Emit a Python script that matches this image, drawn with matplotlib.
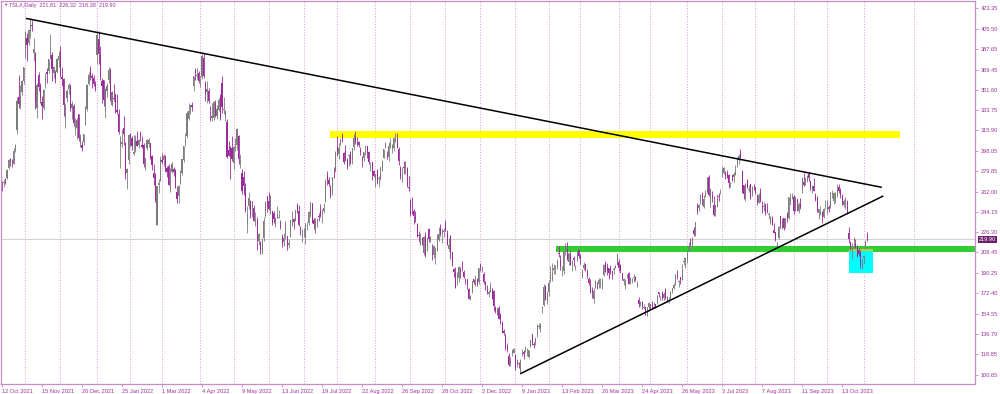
import numpy as np
import pandas as pd
import matplotlib
matplotlib.use("Agg")
import matplotlib.pyplot as plt
from matplotlib.patches import Rectangle

# TSLA daily candles, (open, high, low, close)
q4_2021 = [
    (269, 271, 263, 268.6), (270, 273, 266, 270.4), (273, 274, 269, 272.8), (274, 282, 273, 281.0),
    (283, 291, 282, 290.0), (291, 292, 285, 288.1), (289, 291, 284, 288.6), (286, 300, 286, 298.0),
    (299, 304, 297, 303.2), (316, 345, 313, 341.6), (345, 365, 336, 339.5), (337, 356, 335, 346.0),
    (350, 360, 347, 359.0), (359, 372, 357, 371.3), (382, 403, 380, 402.9), (397, 402, 377, 390.7),
    (393, 405, 391, 404.6), (403, 414.5, 397, 410.0), (409, 413, 403, 407.4), (384, 397, 377, 387.6),
    (384, 385, 335, 341.2), (336, 358, 327, 356.0), (365, 367, 351, 354.5), (355, 358, 340, 344.5),
    (341, 346, 326, 337.8), (336, 352, 334, 351.6), (357, 366, 353, 363.0), (367, 371, 358, 365.5),
    (368, 379, 366, 379.0), (380, 401, 379, 385.6), (382, 385, 359, 369.7), (366, 373, 362, 372.0),
    (367, 369, 358, 360.6), (367, 380, 366, 379.0), (378, 386, 372, 381.6), (387, 390, 363, 365.0),
    (363, 372, 355, 361.5), (361, 362, 329, 338.3), (326, 340, 318, 336.3), (344, 352, 341, 350.6),
    (352, 358, 348, 356.3), (355, 357, 333, 334.6), (336, 342, 326, 339.0), (337, 339, 320, 322.1),
    (316, 327, 312, 319.5), (318, 327, 308, 325.3), (330, 330, 307, 309.0), (304, 313, 301, 310.9),
    (303, 307, 298, 300.0), (306, 313, 303, 312.8), (321, 337, 321, 336.3), (335, 357, 333, 355.7),
    (357, 367, 356, 364.6), (370, 373, 360, 362.8), (364, 366, 353, 362.1), (362, 365, 355, 356.8),
    (357, 359, 351, 352.3),
]
q1_2022 = [
    (382, 403, 374, 399.9), (396, 403, 374, 383.2), (382, 390, 360, 362.7), (359, 362, 340, 354.9),
    (360, 360, 337, 342.3), (333, 353, 327, 352.7), (351, 358, 345, 354.8), (360, 372, 358, 368.7),
    (369, 371, 342, 343.9), (338, 351, 337, 349.9), (344, 357, 342, 343.5), (347, 349, 331, 331.9),
    (334, 348, 330, 332.1), (330, 335, 313, 314.6), (301, 311, 283, 310.0), (304, 317, 301, 306.1),
    (318, 329, 303, 312.5), (305, 306, 273, 276.4), (278, 283, 264, 282.1), (290, 313, 286, 312.2),
    (313, 314, 302, 310.4), (309, 311, 299, 301.9), (295, 312, 294, 297.0), (299, 312, 297, 307.8),
    (307, 315, 302, 302.4), (303, 308, 300, 307.3), (314, 315, 307, 310.7), (303, 311, 300, 301.5),
    (303, 305, 284, 286.7), (287, 292, 281, 291.9), (300, 308, 299, 307.5), (304, 309, 301, 307.8),
    (305, 305, 291, 292.1), (293, 294, 281, 285.7), (278, 286, 268, 273.8), (277, 278, 253, 254.7),
    (233, 267, 233, 266.9), (268, 273, 261, 270.0), (271, 293, 271, 290.1), (290, 296, 286, 288.1),
    (290, 295, 285, 293.3), (293, 294, 279, 279.8), (283, 285, 275, 279.4), (285, 286, 268, 268.2),
    (264, 283, 262, 274.8), (279, 288, 278, 286.3), (282, 284, 276, 279.4), (281, 282, 265, 265.1),
    (262, 267, 252, 255.5), (258, 268, 252, 267.3), (270, 281, 269, 280.1), (278, 291, 277, 290.5),
    (290, 302, 288, 301.8), (305, 314, 302, 307.1), (311, 333, 309, 331.3), (326, 340, 325, 333.0),
    (336, 338, 330, 338.0), (338, 341, 333, 336.9), (355, 364, 351, 363.9), (369, 371, 360, 366.5),
    (364, 371, 361, 364.7), (366, 368, 358, 359.2),
]
q2_2022 = [
    (361, 364, 354, 361.5), (363, 383, 361, 381.8), (380, 384, 362, 363.8), (357, 359, 342, 348.6),
    (350, 359, 340, 352.4), (351, 353, 340, 341.8), (327, 337, 324, 325.3), (327, 340, 324, 329.0),
    (327, 342, 325, 340.8), (340, 343, 328, 328.3), (329, 338, 326, 334.8), (334, 344, 333, 342.7),
    (346, 348, 325, 325.7), (358, 364, 331, 336.3), (334, 345, 330, 335.0), (327, 334, 324, 332.7),
    (323, 326, 292, 292.1), (299, 307, 293, 293.8), (301, 302, 273, 292.5), (300, 311, 289, 290.3),
    (287, 302, 282, 301.0), (300, 309, 298, 303.1), (303, 318, 299, 317.5), (311, 312, 286, 291.1),
    (287, 295, 283, 288.6), (278, 282, 260, 262.4), (275, 280, 259, 266.7), (265, 270, 244, 244.7),
    (234, 249, 226, 242.7), (249, 262, 247, 256.5), (254, 255, 239, 241.5), (248, 254, 240, 253.9),
    (248, 250, 236, 236.6), (235, 244, 232, 236.5), (237, 240, 211, 221.3), (219, 226, 215, 225.0),
    (218, 219, 207, 209.4), (208, 221, 207, 219.6), (221, 240, 219, 235.9), (241, 254, 240, 253.2),
    (258, 258, 244, 252.8),
    (254, 262, 246, 246.8), (244, 259, 242, 258.3), (245, 245, 233, 234.5), (243, 245, 234, 238.3),
    (233, 240, 231, 238.9), (240, 249, 239, 241.9), (239, 246, 239, 239.7), (233, 237, 229, 232.2),
    (222, 225, 213, 215.7), (218, 226, 214, 220.9), (226, 236, 220, 233.0), (223, 223, 211, 213.1),
    (215, 220, 212, 216.8), (222, 237, 222, 237.0), (233, 245, 232, 236.1), (238, 239, 229, 235.1),
    (237, 246, 236, 245.7), (250, 252, 243, 244.9), (245, 250, 232, 232.7), (230, 232, 224, 228.5),
    (223, 229, 218, 224.5),
]
q3_2022 = [
    (227, 230, 222, 227.3), (222, 234, 216, 233.1), (231, 235, 228, 231.7), (234, 245, 233, 244.5),
    (241, 254, 240, 250.8), (252, 252, 234, 234.3), (237, 239, 229, 233.1), (226, 239, 226, 237.0),
    (235, 239, 231, 238.3), (241, 243, 236, 240.1), (246, 251, 240, 240.5), (245, 247, 234, 245.5),
    (245, 252, 243, 247.5), (255, 273, 253, 271.7), (276, 280, 268, 272.2), (272, 275, 267, 268.4),
    (266, 268, 256, 258.9), (262, 275, 259, 274.8), (281, 284, 274, 280.9), (280, 298, 279, 297.1),
    (301, 311, 293, 297.3), (295, 305, 291, 300.6), (304, 309, 303, 307.4), (312, 314, 306, 308.6),
    (296, 297, 286, 288.2), (298, 303, 289, 290.4), (291, 292, 282, 283.3), (293, 295, 285, 294.4),
    (297, 298, 286, 286.6), (290, 300, 286, 300.0), (301, 313, 299, 309.3), (310, 315, 304, 306.6),
    (305, 310, 302, 304.0), (306, 307, 301, 302.9), (299, 301, 294, 296.7), (291, 293, 284, 289.9),
    (292, 297, 289, 296.5), (297, 303, 294, 297.1), (302, 302, 291.6, 296.07), (297, 298, 286, 288.09),
    (282, 288, 280, 284.82), (288, 288.5, 272.6, 277.70), (280, 281, 275, 275.61),
    (272.6, 277.6, 266, 277.16), (281, 282.3, 269, 270.21), (272.7, 276, 265.7, 274.42),
    (273, 283.8, 272, 283.70), (281.3, 289.5, 279.8, 289.26), (291.7, 299.85, 291.25, 299.68),
    (300.7, 305.5, 300.4, 304.42), (292.9, 297.4, 290.4, 292.13), (292.2, 306, 289.3, 302.61),
    (301.8, 309.1, 300.7, 303.75), (299.6, 303.7, 295.6, 303.35), (300.1, 309.8, 297.8, 309.07),
    (306.9, 313.8, 305.6, 308.73), (308.3, 313.8, 300.6, 300.80), (299.9, 301.3, 285.8, 288.59),
    (283.1, 284.5, 272.8, 275.33), (271.8, 284.1, 270.3, 276.01), (283.8, 288.7, 277.5, 282.94),
    (283.1, 289, 277.6, 287.81), (282.8, 283.7, 265.8, 268.21), (266.2, 275.6, 262.5, 265.25),
]
q4_2022 = [
    (254.5, 255.2, 241.0, 242.40), (250.5, 257.5, 242.0, 249.44), (245, 246.7, 233.3, 240.81),
    (239.4, 244.6, 235.4, 238.13), (233.9, 234.6, 222.0, 223.07), (223.9, 227.0, 218.0, 222.96),
    (215.3, 225.8, 215.0, 216.50), (220.95, 221.86, 215.0, 217.24), (208.3, 223.0, 206.2, 221.72),
    (224.0, 226.3, 204.2, 204.99), (210, 221.9, 209.5, 219.35), (229.5, 229.8, 217.3, 220.19),
    (219.8, 222.9, 217.8, 222.04), (208.3, 215.6, 202.0, 207.28), (206.4, 214.7, 203.8, 214.44),
    (205.8, 213.5, 198.6, 211.25), (210.1, 224.4, 210.0, 222.42), (219.4, 230.6, 218.2, 224.64),
    (229.8, 233.8, 222.9, 225.09), (225.4, 228.9, 216.4, 228.52), (226.2, 229.9, 221.9, 227.54),
    (234.05, 237.4, 227.3, 227.82), (226.0, 227.9, 214.8, 214.98), (211.4, 221.2, 210.1, 215.31),
    (222.6, 223.8, 203.1, 207.47), (208.7, 208.9, 196.7, 197.08), (194.0, 195.2, 186.8, 191.30),
    (190.8, 195.9, 177.1, 177.59), (189.9, 191.0, 180.0, 190.72), (186.0, 196.5, 182.6, 195.97),
    (192.8, 195.7, 186.3, 190.95), (195.9, 200.8, 192.1, 194.42), (191.5, 192.6, 185.7, 186.92),
    (184.0, 186.2, 180.9, 183.17), (185.1, 185.2, 176.6, 180.19), (175.9, 176.8, 167.5, 167.87),
    (168.6, 170.9, 166.2, 169.91), (173.6, 183.6, 172.5, 183.20), (185.1, 185.2, 180.6, 182.86),
    (180.0, 188.5, 179.0, 182.92), (185.0, 186.4, 178.8, 180.83), (182.4, 194.8, 180.6, 194.70),
    (197.1, 198.9, 191.8, 194.70), (191.8, 196.3, 191.1, 194.86), (189.4, 191.3, 180.6, 182.45),
    (181.2, 183.7, 175.3, 179.82), (175.0, 179.4, 172.2, 174.04), (172.2, 175.2, 169.1, 173.44),
    (173.8, 182.5, 173.4, 179.05), (176.1, 177.4, 167.5, 167.82), (174.9, 175.1, 156.9, 160.95),
    (159.3, 161.6, 155.3, 156.80), (153.4, 160.9, 153.3, 157.67), (159.6, 161.0, 150.0, 150.23),
    (154.0, 155.3, 145.8, 149.87), (146.1, 148.5, 137.7, 137.80), (139.3, 141.3, 135.9, 137.57),
    (136.0, 136.6, 122.3, 125.35), (126.4, 128.6, 121.0, 123.15), (117.5, 119.7, 108.8, 109.10),
    (110.4, 116.3, 108.2, 112.71), (120.4, 123.6, 117.5, 121.82), (120.0, 124.5, 119.8, 123.18),
]
q1_2023 = [
    (118.5, 118.8, 104.6, 108.10), (109.1, 114.6, 107.5, 113.64), (110.5, 111.8, 107.2, 110.34),
    (103.0, 114.4, 101.8, 113.06), (119.0, 123.5, 117.1, 119.77), (121.1, 122.8, 114.9, 118.85),
    (122.1, 126.0, 120.5, 123.22), (122.6, 124.1, 117.0, 123.56), (116.6, 122.6, 115.6, 122.40),
    (125.7, 131.7, 125.0, 131.49), (136.6, 136.7, 127.0, 128.78), (127.3, 130.0, 124.3, 127.17),
    (128.7, 133.5, 127.4, 133.42), (135.9, 145.4, 134.3, 143.75), (143.0, 146.5, 141.1, 143.89),
    (141.9, 146.4, 138.1, 144.43), (160.0, 161.4, 154.8, 160.27), (162.4, 180.7, 161.2, 177.90),
    (178.1, 179.8, 166.5, 166.66), (164.6, 174.3, 162.8, 173.22),
    (173.9, 183.8, 169.9, 181.41), (185.1, 196.8, 182.6, 188.27), (184.0, 199.0, 183.7, 189.98),
    (193.0, 198.2, 189.9, 194.76), (196.4, 197.5, 189.6, 196.81), (196.1, 203.0, 194.3, 201.29),
    (207.8, 214.0, 204.8, 207.32), (202.2, 206.2, 192.9, 196.89), (194.4, 196.3, 187.6, 194.64),
    (191.9, 209.8, 189.4, 209.25), (211.8, 216.7, 206.1, 214.24), (210.8, 217.7, 201.8, 202.04),
    (200.0, 208.4, 197.5, 208.31), (205.0, 209.7, 197.2, 197.37), (197.9, 202.0, 191.8, 200.86),
    (203.9, 205.1, 196.3, 202.07), (196.3, 197.7, 192.8, 196.88), (202.0, 209.4, 201.3, 207.63),
    (210.6, 211.2, 203.8, 205.71),
    (206.2, 207.2, 198.5, 202.77), (186.7, 193.8, 186.0, 190.90), (194.8, 200.5, 192.9, 197.79),
    (198.5, 198.6, 192.3, 193.81), (191.4, 194.2, 186.1, 187.71), (185.0, 186.5, 180.0, 182.00),
    (180.3, 185.2, 172.5, 172.92), (175.1, 178.3, 168.4, 173.44), (167.5, 177.4, 163.9, 174.48),
    (177.3, 183.8, 177.1, 183.26), (180.8, 182.3, 176.0, 180.45), (180.4, 186.2, 176.9, 184.13),
    (180.1, 186.2, 177.3, 180.13), (178.1, 186.4, 176.4, 183.25), (188.3, 198.0, 188.0, 197.58),
    (199.3, 200.7, 191.0, 191.15), (195.3, 199.3, 188.7, 192.22), (194.4, 194.5, 185.0, 190.41),
    (194.5, 197.4, 189.9, 191.81), (192.0, 192.4, 185.4, 189.19), (193.1, 195.3, 189.4, 193.88),
    (195.6, 197.3, 194.4, 195.28), (197.5, 207.8, 197.2, 207.46),
]
q2_2023 = [
    (199.9, 202.7, 192.2, 194.77), (197.3, 198.7, 190.3, 192.58), (190.5, 190.7, 183.8, 185.52),
    (183.1, 186.4, 179.7, 185.06), (179.9, 185.1, 176.1, 184.51), (186.7, 189.2, 185.7, 186.79),
    (190.7, 191.6, 180.3, 180.54), (183.0, 186.5, 180.9, 185.90), (184.0, 186.3, 182.0, 185.00),
    (186.3, 189.7, 182.7, 187.04), (187.2, 187.7, 183.6, 184.31), (179.1, 183.5, 177.7, 180.59),
    (166.2, 169.7, 160.6, 162.99), (164.8, 166.0, 161.3, 165.08), (164.7, 165.7, 158.6, 162.55),
    (159.8, 163.5, 158.8, 160.67), (160.3, 160.7, 153.1, 153.75), (152.6, 160.5, 152.4, 160.19),
    (160.9, 165.0, 157.3, 164.31),
    (163.2, 163.3, 158.8, 161.83), (161.9, 165.5, 158.9, 160.31), (160.0, 165.0, 159.9, 160.61),
    (162.7, 163.0, 159.7, 161.20), (164.0, 170.8, 163.5, 170.06), (173.7, 173.8, 169.2, 171.79),
    (169.0, 169.8, 166.6, 169.15), (172.6, 174.4, 166.7, 168.54), (168.7, 173.6, 166.8, 172.08),
    (176.1, 177.4, 167.2, 167.98), (167.7, 169.8, 164.6, 166.35), (165.7, 169.5, 164.4, 166.52),
    (168.4, 174.5, 167.2, 173.86), (174.2, 177.1, 172.5, 176.89), (177.2, 182.0, 176.3, 180.14),
    (180.7, 189.3, 180.1, 188.87), (186.2, 193.0, 185.3, 185.77), (182.6, 184.2, 178.2, 182.90),
    (186.5, 186.8, 180.6, 184.47), (184.6, 198.6, 184.5, 193.17), (200.1, 204.5, 197.5, 201.16),
    (199.8, 204.0, 195.1, 203.93),
    (202.6, 209.8, 199.4, 207.52), (210.2, 217.3, 209.8, 213.97), (217.8, 221.3, 214.5, 217.61),
    (216.1, 221.9, 212.5, 221.31), (228.0, 230.8, 223.2, 224.57), (224.2, 235.2, 223.0, 234.86),
    (249.1, 252.4, 242.0, 244.40), (247.9, 251.0, 244.6, 249.83), (253.5, 259.7, 251.3, 258.71),
    (260.2, 261.6, 250.5, 256.79), (248.4, 259.0, 247.3, 255.90), (258.9, 263.6, 257.2, 260.54),
    (261.5, 274.8, 261.1, 274.45), (275.1, 277.0, 257.8, 259.46), (250.8, 265.0, 248.3, 264.61),
    (259.3, 262.5, 252.8, 256.60), (250.1, 258.4, 240.7, 241.05), (243.2, 250.4, 240.9, 250.21),
    (249.7, 259.9, 248.9, 256.24), (258.0, 260.7, 253.6, 257.50), (260.6, 264.5, 259.9, 261.77),
]
q3_2023 = [
    (276.5, 284.3, 275.1, 279.82), (278.8, 283.9, 277.6, 282.48), (278.1, 280.0, 272.9, 276.54),
    (278.4, 280.8, 273.8, 274.43), (276.5, 277.5, 265.1, 269.61), (268.7, 270.9, 266.4, 269.79),
    (276.3, 276.5, 271.5, 271.99), (274.6, 279.5, 270.6, 277.90), (277.0, 285.3, 276.3, 281.38),
    (286.6, 292.2, 283.6, 290.38), (290.2, 295.3, 286.0, 293.34), (296.0, 299.3, 289.5, 291.26),
    (279.6, 280.9, 261.2, 262.90), (268.0, 268.0, 255.8, 260.02), (255.9, 269.9, 254.1, 269.06),
    (272.4, 272.9, 265.0, 265.28), (263.7, 268.0, 261.8, 264.35), (268.3, 269.1, 255.3, 255.71),
    (259.9, 267.3, 258.2, 266.44), (267.5, 269.1, 263.8, 267.43),
    (266.3, 266.5, 260.3, 261.07), (255.6, 259.5, 250.5, 254.11), (252.0, 260.5, 252.0, 259.32),
    (261.0, 264.8, 253.1, 253.86), (251.5, 253.7, 242.8, 251.45), (248.2, 253.2, 245.0, 249.70),
    (250.9, 250.9, 241.6, 242.19), (245.4, 251.8, 243.5, 245.34), (241.8, 243.8, 238.0, 242.65),
    (235.7, 240.7, 233.8, 239.76), (238.7, 240.5, 232.6, 232.96), (228.0, 234.0, 225.4, 225.60),
    (226.1, 226.7, 218.8, 219.22), (214.1, 217.6, 212.4, 215.49), (221.6, 232.1, 220.6, 231.28),
    (240.3, 240.8, 229.6, 233.19), (229.3, 239.0, 229.3, 236.86), (238.7, 238.9, 228.2, 230.04),
    (231.3, 239.0, 230.4, 238.59), (242.6, 244.4, 235.4, 238.82), (238.6, 257.5, 237.8, 257.18),
    (254.2, 260.5, 250.6, 256.90), (256.0, 261.2, 255.1, 258.08),
    (257.3, 259.1, 242.0, 245.01), (245.0, 258.0, 244.9, 256.49), (255.1, 255.4, 245.1, 251.92),
    (245.1, 252.8, 243.3, 251.49), (251.2, 256.5, 246.7, 248.50), (264.3, 274.9, 260.6, 273.58),
    (270.8, 278.4, 266.6, 267.48), (270.1, 275.0, 268.1, 271.30), (271.3, 276.7, 270.4, 276.04),
    (277.6, 279.0, 271.0, 274.39), (271.2, 271.4, 263.8, 265.28), (264.4, 267.9, 261.2, 266.50),
    (267.0, 273.9, 262.5, 262.59), (257.9, 260.9, 254.2, 255.70), (257.4, 257.8, 244.5, 244.88),
    (243.4, 247.1, 238.3, 246.99), (243.0, 249.6, 241.7, 244.12), (244.3, 245.3, 234.6, 240.50),
    (240.0, 247.6, 238.7, 246.38), (250.0, 254.8, 246.4, 250.22),
]
q4_2023 = [
    (244.8, 254.3, 242.6, 251.60), (248.6, 250.0, 244.5, 246.53), (248.1, 261.9, 247.6, 261.16),
    (260.0, 263.6, 256.3, 260.05), (254.0, 261.7, 250.7, 260.53), (255.3, 261.4, 252.1, 259.67),
    (257.8, 268.9, 257.7, 263.62), (266.2, 268.6, 260.9, 262.99), (262.9, 265.4, 256.6, 258.87),
    (258.9, 259.6, 250.2, 251.12), (250.1, 255.4, 248.5, 253.92), (250.1, 257.2, 247.1, 254.85),
    (252.7, 254.6, 242.1, 242.68), (226.0, 230.6, 216.8, 220.11), (217.0, 218.9, 210.4, 211.99),
    (210.0, 217.0, 202.5, 212.08), (216.5, 222.1, 214.1, 216.52), (215.9, 220.1, 212.2, 212.42),
    (211.3, 214.8, 204.9, 205.76), (210.6, 212.4, 205.8, 207.30), (209.3, 210.9, 194.7, 197.36),
    (196.1, 202.8, 194.1, 200.84), (204.0, 206.0, 197.9, 205.66), (213.0, 219.2, 211.5, 218.51),
    (221.81, 226.32, 218.38, 219.90),
]

market_holidays = [
    "2021-11-25", "2021-12-24", "2022-01-17", "2022-02-21", "2022-04-15", "2022-05-30",
    "2022-06-20", "2022-07-04", "2022-09-05", "2022-11-24", "2022-12-26", "2023-01-02",
    "2023-01-16", "2023-02-20", "2023-04-07", "2023-05-29", "2023-06-19", "2023-07-04",
    "2023-09-04",
]

price_ticks = [423.35, 405.50, 387.65, 369.45, 351.60, 333.75, 315.90, 298.05, 279.85, 262.00,
               244.15, 226.30, 208.45, 190.25, 172.40, 154.55, 136.70, 118.85, 100.65]

# drawn objects on the chart
resistance_zone = (309.6, 315.0)
support_zone = (208.8, 214.6)
box_zone = (190.1, 210.0)
down_line = [(14.4, 414.5), (527.8, 265.8)]
up_line = [(311, 101.8), (528.7, 258.2)]
last_price = 219.90

ohlc = np.array(q4_2021 + q1_2022 + q2_2022 + q3_2022 + q4_2022 +
                q1_2023 + q2_2023 + q3_2023 + q4_2023, dtype=float)
opens, highs, lows, closes = ohlc.T

days = pd.bdate_range("2021-10-12", "2023-11-03")
days = days[~days.isin(pd.to_datetime(market_holidays))]
assert len(days) == len(ohlc), (len(days), len(ohlc))
x = np.arange(len(days))

TXT = "#993399"
FRAME = "#c58fc5"
BULL = "#7d7d7d"
BEAR = "#9b2a9b"
plt.rcParams["font.family"] = ["Liberation Sans", "DejaVu Sans"]

fig = plt.figure(figsize=(10, 3.94), dpi=100)
ax = fig.add_axes([1 / 1000, 10 / 394, 974 / 1000, 383 / 394])
ax.set_xlim(-0.6, 583.7)
ax.set_ylim(92.7, 429.8)

# monthly separators (dotted)
month_starts = [i for i in range(1, len(days)) if days[i].month != days[i - 1].month]
for i in month_starts + [547]:
    ax.axvline(i, color="#dc9adc", lw=0.7, ls=(0, (1, 1.8)), zorder=0)

ax.axhline(last_price, color="#d2d2d2", lw=0.8, zorder=1)

ax.add_patch(Rectangle((196.8, resistance_zone[0]), 539 - 196.8,
                       resistance_zone[1] - resistance_zone[0], fc="#ffff00", ec="none", zorder=1))
ax.add_patch(Rectangle((332.2, support_zone[0]), 300, support_zone[1] - support_zone[0],
                       fc="#33cc33", ec="none", zorder=1))
ax.add_patch(Rectangle((508.1, box_zone[0]), 14.2, box_zone[1] - box_zone[0],
                       fc="#00ffff", ec="none", zorder=1.1))
ax.add_patch(Rectangle((508.1, box_zone[1] - 0.2), 14.2, 1.6, fc="#c6c83a", ec="none", zorder=1.2))

up = closes >= opens
col = np.where(up, BULL, BEAR)
ax.vlines(x, lows, highs, colors=col, lw=0.6, zorder=2)
body_lo = np.minimum(opens, closes)
body_h = np.maximum(np.abs(closes - opens), 0.5)
ax.bar(x, body_h, bottom=body_lo, width=0.65, color=col, lw=0, zorder=3)

for pts in (down_line, up_line):
    xs, ys = zip(*pts)
    ax.plot(xs, ys, color="black", lw=1.1, zorder=4, solid_capstyle="butt")

# axes decoration
for s in ax.spines.values():
    s.set_color(FRAME)
    s.set_linewidth(0.9)
ax.yaxis.tick_right()
ax.set_yticks(price_ticks)
ax.set_yticklabels([f"{v:.2f}" for v in price_ticks])
ax.tick_params(axis="y", direction="out", length=2.5, width=0.6, color=FRAME,
               labelsize=4.1, labelcolor=TXT, pad=1.5)
lab_idx = x[::24]
ax.set_xticks(lab_idx)
ax.set_xticklabels([f"{days[i].day} {days[i]:%b %Y}" for i in lab_idx])
ax.tick_params(axis="x", direction="out", length=2.5, width=0.6, color=FRAME,
               labelsize=4.1, labelcolor=TXT, pad=0.8)
for t in ax.get_xticklabels():
    t.set_ha("left")

ax.text(1.004, last_price, f"{last_price:.2f}", transform=ax.get_yaxis_transform(),
        ha="left", va="center", fontsize=4.1, color="white", clip_on=False, zorder=6,
        bbox=dict(boxstyle="square,pad=0.2", fc="#6d1f6d", ec="none"))

fig.text(3 / 1000, 1 - 5 / 394, "\u25bc", fontsize=3.2, color=TXT, va="center", ha="left")
fig.text(9 / 1000, 1 - 5 / 394, "TSLA,Daily  221.81  226.32  218.38  219.90",
         fontsize=4.0, color=TXT, va="center", ha="left")

fig.savefig("out.png", dpi=100)
